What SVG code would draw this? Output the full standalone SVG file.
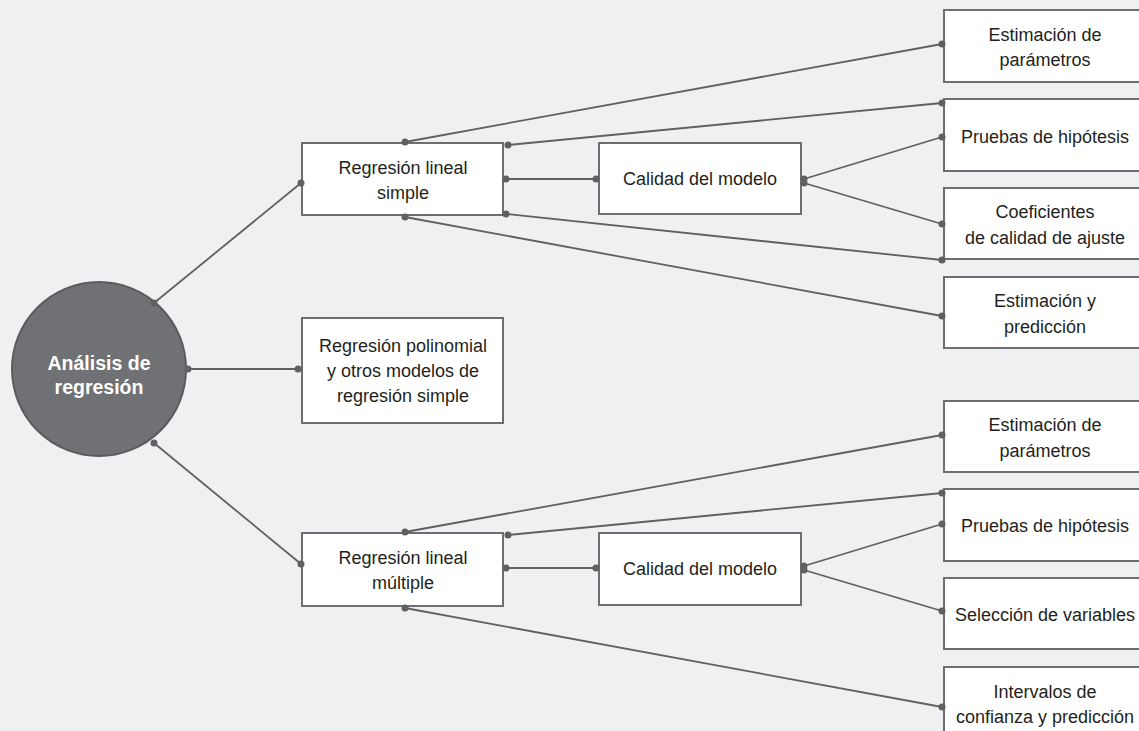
<svg xmlns="http://www.w3.org/2000/svg" width="1139" height="731" viewBox="0 0 1139 731">
<style>
.bg{fill:#eff0f2}
.box{fill:#ffffff;stroke:#6d6e71;stroke-width:2}
.t{font-family:"Liberation Sans",Arial,sans-serif;font-size:18px;fill:#231f20;text-anchor:middle}
.ct{font-family:"Liberation Sans",Arial,sans-serif;font-size:19.5px;font-weight:bold;fill:#ffffff;text-anchor:middle}
.ln{stroke:#5f6062;stroke-width:1.8;fill:none}
.dot{fill:#5f6062}
</style>
<rect class="bg" x="0" y="0" width="1139" height="731"/>

<g id="n-root">
<circle cx="99" cy="369" r="87" fill="#707174" stroke="#5a5b5e" stroke-width="2"/>
<text class="ct" x="99" y="370">Análisis de</text>
<text class="ct" x="99" y="394">regresión</text>
</g>

<g id="n-rls">
<rect class="box" x="302" y="143" width="201" height="72"/>
<text class="t" x="403" y="174">Regresión lineal</text>
<text class="t" x="403" y="199">simple</text>
</g>
<g id="n-poli">
<rect class="box" x="302" y="318" width="201" height="105"/>
<text class="t" x="403" y="352">Regresión polinomial</text>
<text class="t" x="403" y="377">y otros modelos de</text>
<text class="t" x="403" y="402">regresión simple</text>
</g>
<g id="n-rlm">
<rect class="box" x="302" y="533" width="201" height="73"/>
<text class="t" x="403" y="564">Regresión lineal</text>
<text class="t" x="403" y="589">múltiple</text>
</g>
<g id="n-cal1">
<rect class="box" x="599" y="143" width="202" height="71"/>
<text class="t" x="700" y="185">Calidad del modelo</text>
</g>
<g id="n-cal2">
<rect class="box" x="599" y="533" width="202" height="72"/>
<text class="t" x="700" y="575">Calidad del modelo</text>
</g>

<g id="n-est1">
<rect class="box" x="944" y="10" width="202" height="72"/>
<text class="t" x="1045" y="41">Estimación de</text>
<text class="t" x="1045" y="66">parámetros</text>
</g>
<g id="n-pru1">
<rect class="box" x="944" y="99" width="202" height="72"/>
<text class="t" x="1045" y="143">Pruebas de hipótesis</text>
</g>
<g id="n-coef">
<rect class="box" x="944" y="188" width="202" height="71"/>
<text class="t" x="1045" y="218">Coeficientes</text>
<text class="t" x="1045" y="244">de calidad de ajuste</text>
</g>
<g id="n-estpred">
<rect class="box" x="944" y="277" width="202" height="71"/>
<text class="t" x="1045" y="307">Estimación y</text>
<text class="t" x="1045" y="333">predicción</text>
</g>

<g id="n-est2">
<rect class="box" x="944" y="401" width="202" height="71"/>
<text class="t" x="1045" y="431">Estimación de</text>
<text class="t" x="1045" y="457">parámetros</text>
</g>
<g id="n-pru2">
<rect class="box" x="944" y="489" width="202" height="72"/>
<text class="t" x="1045" y="532">Pruebas de hipótesis</text>
</g>
<g id="n-sel">
<rect class="box" x="944" y="578" width="202" height="71"/>
<text class="t" x="1045" y="621">Selección de variables</text>
</g>
<g id="n-int">
<rect class="box" x="944" y="667" width="202" height="72"/>
<text class="t" x="1045" y="698">Intervalos de</text>
<text class="t" x="1045" y="723">confianza y predicción</text>
</g>

<g id="connectors">
<line class="ln" x1="154" y1="303" x2="301" y2="183"/>
<line class="ln" x1="188" y1="369" x2="298" y2="369"/>
<line class="ln" x1="154" y1="443" x2="301" y2="564"/>
<line class="ln" x1="405" y1="142" x2="942" y2="44"/>
<line class="ln" x1="508" y1="145" x2="942" y2="103"/>
<line class="ln" x1="506" y1="179" x2="596" y2="179"/>
<line class="ln" x1="506" y1="214" x2="942" y2="260"/>
<line class="ln" x1="405" y1="217" x2="942" y2="316"/>
<line class="ln" x1="804" y1="179" x2="942" y2="137"/>
<line class="ln" x1="804" y1="183" x2="942" y2="224"/>
<line class="ln" x1="405" y1="532" x2="942" y2="435"/>
<line class="ln" x1="508" y1="535" x2="942" y2="493"/>
<line class="ln" x1="506" y1="568" x2="596" y2="568"/>
<line class="ln" x1="405" y1="608" x2="942" y2="707"/>
<line class="ln" x1="804" y1="566" x2="942" y2="524"/>
<line class="ln" x1="804" y1="570" x2="942" y2="611"/>
<g class="dot">
<circle cx="154" cy="303" r="3.5"/><circle cx="301" cy="183" r="3.5"/>
<circle cx="188" cy="369" r="3.5"/><circle cx="298" cy="369" r="3.5"/>
<circle cx="154" cy="443" r="3.5"/><circle cx="301" cy="564" r="3.5"/>
<circle cx="405" cy="142" r="3.5"/><circle cx="942" cy="44" r="3.5"/>
<circle cx="508" cy="145" r="3.5"/><circle cx="942" cy="103" r="3.5"/>
<circle cx="506" cy="179" r="3.5"/><circle cx="596" cy="179" r="3.5"/>
<circle cx="506" cy="214" r="3.5"/><circle cx="942" cy="260" r="3.5"/>
<circle cx="405" cy="217" r="3.5"/><circle cx="942" cy="316" r="3.5"/>
<circle cx="804" cy="179" r="3.5"/><circle cx="804" cy="183" r="3.5"/>
<circle cx="942" cy="137" r="3.5"/><circle cx="942" cy="224" r="3.5"/>
<circle cx="405" cy="532" r="3.5"/><circle cx="942" cy="435" r="3.5"/>
<circle cx="508" cy="535" r="3.5"/><circle cx="942" cy="493" r="3.5"/>
<circle cx="506" cy="568" r="3.5"/><circle cx="596" cy="568" r="3.5"/>
<circle cx="405" cy="608" r="3.5"/><circle cx="942" cy="707" r="3.5"/>
<circle cx="804" cy="566" r="3.5"/><circle cx="804" cy="570" r="3.5"/>
<circle cx="942" cy="524" r="3.5"/><circle cx="942" cy="611" r="3.5"/>
</g>
</g>
</svg>
